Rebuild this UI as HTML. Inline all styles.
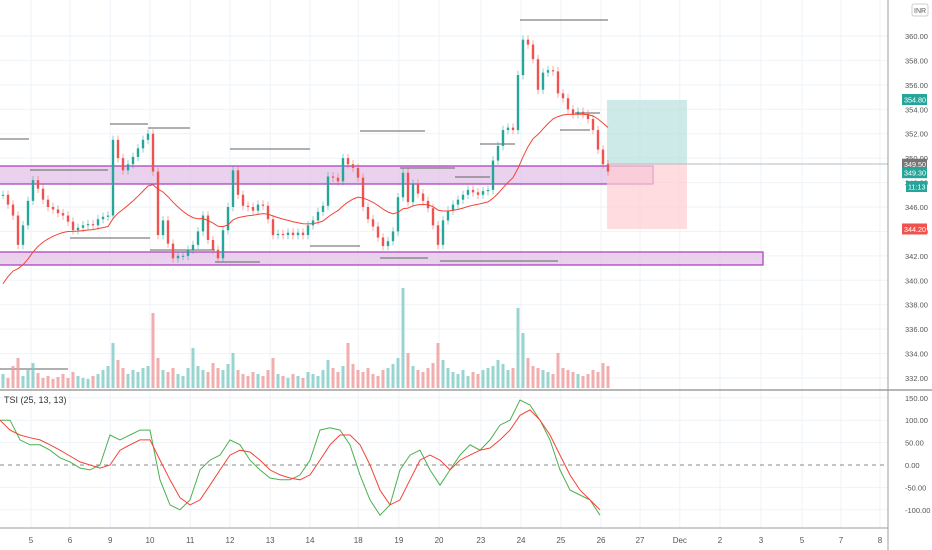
<!DOCTYPE html>
<html><head><meta charset="utf-8">
<style>
html,body{margin:0;padding:0;background:#fff;overflow:hidden}
svg{display:block;font-family:"Liberation Sans",sans-serif}
</style></head>
<body>
<svg id="chart" width="932" height="550" viewBox="0 0 932 550">
<rect x="0" y="0" width="932" height="550" fill="#ffffff"/>
<g id="grid"></g>
<g id="zones">
 <rect x="-2" y="166" width="655" height="18" fill="#e1bee7" fill-opacity="0.7" stroke="#ab47bc" stroke-width="1.3"/>
 <rect x="-2" y="252" width="765" height="13" fill="#e1bee7" fill-opacity="0.7" stroke="#ab47bc" stroke-width="1.3"/>
</g>
<g id="position">
 <rect x="607" y="100" width="80" height="64" fill="#b2dfdb" fill-opacity="0.65"/>
 <rect x="607" y="164" width="80" height="65" fill="#ffcdd2" fill-opacity="0.7"/>
 <line x1="607" y1="164" x2="888" y2="164" stroke="#b0bec5" stroke-width="1"/>
</g>
<g id="levels" stroke="#616161" stroke-width="1" fill="none"></g>
<g id="vol"></g>
<g id="candles"></g>
<path id="ema" fill="none" stroke="#f44336" stroke-width="1"/>
<g id="tsi"></g>
<g id="axes"></g>
</svg>
<script>
const closes=[347.0,346.2,345.3,342.9,344.5,346.5,348.2,347.5,346.6,346.0,345.8,345.5,345.3,344.8,344.1,344.3,344.5,344.6,344.5,345.0,345.2,345.3,351.5,350.0,349.0,349.5,350.1,350.8,351.5,352.0,348.9,343.7,344.9,343.0,341.8,342.0,342.0,342.5,342.9,344.0,345.3,343.3,342.5,341.8,344.1,346.0,349.0,347.0,346.1,346.0,345.7,346.2,346.1,345.0,343.7,343.8,343.7,343.9,343.7,343.9,343.7,344.5,344.9,345.6,346.1,348.5,348.4,348.1,350.0,349.5,349.2,348.4,346.0,345.0,344.4,343.5,342.8,343.2,344.0,346.8,348.8,346.4,347.9,347.1,346.5,345.9,344.5,342.9,344.9,345.7,346.2,346.6,347.0,347.4,347.2,347.0,347.3,347.4,349.8,351.0,352.3,352.5,352.3,356.8,359.7,359.3,358.1,355.6,357.0,357.2,357.1,355.3,354.9,354.0,353.6,353.8,353.6,353.2,352.3,350.7,349.5,348.9];
const volumes=[14,10,22,30,12,18,25,15,10,12,9,11,14,10,16,12,10,9,12,14,18,22,45,28,20,14,18,16,20,22,75,30,18,16,20,14,12,20,40,22,18,16,25,20,18,24,35,18,14,12,16,14,12,18,30,14,12,10,14,12,10,16,14,12,18,28,20,16,22,45,24,18,16,20,14,12,18,20,24,30,100,35,22,18,16,20,25,45,28,20,16,14,18,12,16,14,18,20,22,28,24,18,20,80,55,30,22,20,18,16,14,35,20,18,16,14,12,14,18,16,25,22];
const tsiValues=[100,100,56,45,45,33,16,7,-7,-11,0,67,56,67,78,78,-33,-89,-100,-78,-11,11,22,56,45,11,-11,-29,-33,-33,-22,11,78,83,78,45,-22,-78,-112,-89,-11,22,33,-11,-45,-11,22,45,33,56,89,100,145,134,100,56,-11,-56,-67,-78,-112];
const signalValues=[100,78,67,61,56,45,33,20,7,0,-7,0,33,45,56,56,11,-33,-73,-89,-78,-45,-11,22,33,29,11,-11,-22,-29,-33,-22,11,45,67,67,45,0,-56,-89,-78,-33,11,22,11,-11,11,22,33,38,56,78,111,123,100,67,22,-22,-56,-78,-100];
const priceTicks=[360,358,356,354,352,350,348,346,344,342,340,338,336,334,332];
const tsiTicks=[150,100,50,0,-50,-100];
const dayLabels=["5","6","9","10","11","12","13","14","18","19","20","23","24","25","26","27","Dec","2","3","5","7","8"];
const dayIndex=[0,0.97,1.97,2.96,3.96,4.95,5.95,6.94,8.14,9.15,10.15,11.19,12.19,13.18,14.18,15.15,16.14,17.14,18.16,19.18,20.15,21.12];

const NS="http://www.w3.org/2000/svg";
function mk(tag,attrs,parent){const e=document.createElementNS(NS,tag);for(const k in attrs)e.setAttribute(k,attrs[k]);parent.appendChild(e);return e;}
const py=p=>36+(360-p)*12.214;
const cx=i=>3+i*5;
const ty=v=>465-v*0.448;
const tx=i=>i*10;
const dx=i=>31+i*40.2;
const PW=888;

const grid=document.getElementById('grid');
priceTicks.forEach(p=>{const l=mk('line',{x1:0,x2:PW,y1:py(p),y2:py(p),stroke:'#eef3f7'},grid);

});
dayIndex.forEach(i=>{const l=mk('line',{x1:dx(i),x2:dx(i),y1:0,y2:528,stroke:'#eef3f7'},grid);

});

const lv=document.getElementById('levels');
[[0,29,139],[110,148,124],[148,190,128],[30,108,170],[70,150,238],[150,215,250],[215,260,262],[230,310,149],[310,360,246],[360,425,131],[380,428,258],[400,455,168],[440,558,261],[455,490,177],[480,515,144],[520,608,20],[560,590,130],[575,600,113],[0,68,369]].forEach(s=>{
const l=mk('line',{x1:s[0],x2:s[1],y1:s[2],y2:s[2]},lv);

});

const vg=document.getElementById('vol');
closes.forEach((c,i)=>{const o=i?closes[i-1]:c;const h=volumes[i];
const r=mk('rect',{x:cx(i)-1.5,y:388-h,width:3,height:h,fill:c>=o?'#80cbc4':'#ef9a9a','fill-opacity':0.8},vg);

});

const cg=document.getElementById('candles');
closes.forEach((c,i)=>{const o=i?closes[i-1]:c;const up=c>=o;const col=up?'#26a69a':'#ef5350';
const hi=Math.max(o,c)+0.35, lo=Math.min(o,c)-0.35;
const w=mk('line',{x1:cx(i),x2:cx(i),y1:py(hi),y2:py(lo),stroke:col,'stroke-opacity':0.5},cg);


const b=mk('rect',{x:cx(i)-1.2,y:py(Math.max(o,c)),width:2.4,height:Math.max(1,Math.abs(py(o)-py(c))),fill:col},cg);

});

let e=339.0,d='';
closes.forEach((c,i)=>{e=e+(c-e)*0.09;d+=(i?'L':'M')+cx(i)+','+py(e).toFixed(1);});
document.getElementById('ema').setAttribute('d',d);

const tg=document.getElementById('tsi');
const sep=mk('line',{x1:0,x2:932,y1:390,y2:390,stroke:'#9e9e9e','stroke-width':1.5},tg);


tsiTicks.forEach(v=>{const l=mk('line',{x1:0,x2:PW,y1:ty(v),y2:ty(v),stroke:v===0?'#888':'#eef3f7','stroke-dasharray':v===0?'4,4':'none'},tg);

});
const tl=mk('text',{x:4,y:403,'font-size':9,fill:'#333'},tg);tl.textContent='TSI (25, 13, 13)';


function poly(arr,col,name){let s='';arr.forEach((v,i)=>{s+=(i?'L':'M')+Math.min(tx(i),605)+','+ty(v).toFixed(1);});
const p=mk('path',{d:s,fill:'none',stroke:col,'stroke-width':1},tg);

}
poly(tsiValues,'#4caf50','tsi-line');
poly(signalValues,'#f44336','tsi-signal-line');

const ax=document.getElementById('axes');
const al=mk('line',{x1:PW,x2:PW,y1:0,y2:550,stroke:'#9e9e9e'},ax);


const bl=mk('line',{x1:0,x2:PW,y1:528,y2:528,stroke:'#9e9e9e'},ax);


priceTicks.forEach(p=>{const t=mk('text',{x:905,y:py(p)+3,'font-size':7.5,fill:'#555'},ax);t.textContent=p.toFixed(2);

});
tsiTicks.forEach(v=>{const t=mk('text',{x:905,y:ty(v)+3,'font-size':7.5,fill:'#555'},ax);t.textContent=v.toFixed(2);

});
dayIndex.forEach(i=>{const t=mk('text',{x:dx(i),y:543,'font-size':8,fill:'#555','text-anchor':'middle'},ax);t.textContent=dayLabels[dayIndex.indexOf(i)];

});
[[354.8,'#26a69a','354.80'],[349.5,'#757575','349.50'],[349.3,'#26a69a','349.30'],[344.2,'#ef5350','344.20']].forEach((b,k)=>{
const yy=py(b[0])+(k===2?6:0);
const r=mk('rect',{x:902,y:yy-5.5,width:25,height:11,fill:b[1]},ax);


const t=mk('text',{x:904,y:yy+3,'font-size':7.2,fill:'#fff'},ax);t.textContent=b[2];

});
const cb=mk('rect',{x:906,y:181,width:21,height:11,fill:'#26a69a'},ax);


const ct=mk('text',{x:908,y:189.5,'font-size':7.2,fill:'#fff'},ax);ct.textContent='11:13';


const ib=mk('rect',{x:912,y:4,width:16,height:12,fill:'#fff',stroke:'#ccc',rx:2},ax);


const it=mk('text',{x:914,y:13,'font-size':7,fill:'#555'},ax);it.textContent='INR';


</script>
</body></html>
